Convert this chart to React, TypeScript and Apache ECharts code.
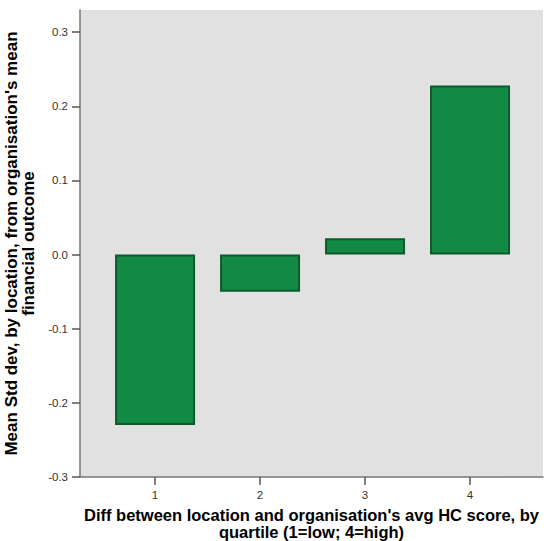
import React, { useEffect, useRef } from "react";
import * as echarts from "echarts";

const quartiles = [1, 2, 3, 4];
const meanStdDev = [-0.23, -0.05, 0.022, 0.228];
const yTicks = [-0.3, -0.2, -0.1, 0.0, 0.1, 0.2, 0.3];
const xTickLabels = ["1", "2", "3", "4"];

export default function App() {
  const ref = useRef<HTMLDivElement>(null);
  useEffect(() => {
    if (!ref.current) return;
    const chart = echarts.init(ref.current, null, { renderer: "svg" });
    const font = "'Liberation Sans', Arial, sans-serif";
    chart.setOption({
      animation: false,
      backgroundColor: "#ffffff",
      grid: {
        left: 80,
        right: 1,
        top: 10,
        bottom: 64,
        show: true,
        backgroundColor: "#e1e1e1",
        borderWidth: 0,
        outerBoundsMode: "none",
        containLabel: false,
      },
      xAxis: {
        type: "value",
        min: 0.285,
        max: 4.695,
        splitLine: { show: false },
        axisLine: { show: true, onZero: false, lineStyle: { color: "#777777", width: 1.5 } },
        axisTick: {
          show: true,
          length: 8,
          customValues: quartiles,
          lineStyle: { color: "#555555", width: 1.5 },
        },
        axisLabel: {
          customValues: quartiles,
          formatter: (v: number) => xTickLabels[quartiles.indexOf(Math.round(v))] ?? "",
          color: "#333333",
          fontSize: 11.5,
          fontFamily: font,
          margin: 12,
        },
        name: "Diff between location and organisation's avg HC score, by\nquartile (1=low; 4=high)",
        nameLocation: "middle",
        nameGap: 29,
        nameTextStyle: {
          fontSize: 16.5,
          fontWeight: "bold",
          fontFamily: font,
          color: "#000000",
          lineHeight: 17,
        },
      },
      yAxis: {
        type: "value",
        min: -0.3,
        max: 0.33,
        splitLine: { show: false },
        axisLine: { show: true, onZero: false, lineStyle: { color: "#777777", width: 1.5 } },
        axisTick: {
          show: true,
          length: 8,
          customValues: yTicks,
          lineStyle: { color: "#555555", width: 1.5 },
        },
        axisLabel: {
          customValues: yTicks,
          formatter: (v: number) => v.toFixed(1),
          color: "#333333",
          fontSize: 11.5,
          fontFamily: font,
          margin: 12,
        },
        name: "Mean Std dev, by location, from organisation's mean\nfinancial outcome",
        nameLocation: "middle",
        nameGap: 38,
        nameTextStyle: {
          fontSize: 17,
          fontWeight: "bold",
          fontFamily: font,
          color: "#000000",
          lineHeight: 17,
        },
      },
      series: [
        {
          type: "bar",
          barWidth: 80,
          data: quartiles.map((q, i) => [q, meanStdDev[i]]),
          itemStyle: {
            color: "#128a45",
            borderColor: "#0c5a2b",
            borderWidth: 2,
          },
        },
      ],
    });
    return () => chart.dispose();
  }, []);
  return (
    <div
      ref={ref}
      style={{ position: "fixed", left: 0, top: 0, width: 544, height: 541 }}
    />
  );
}
